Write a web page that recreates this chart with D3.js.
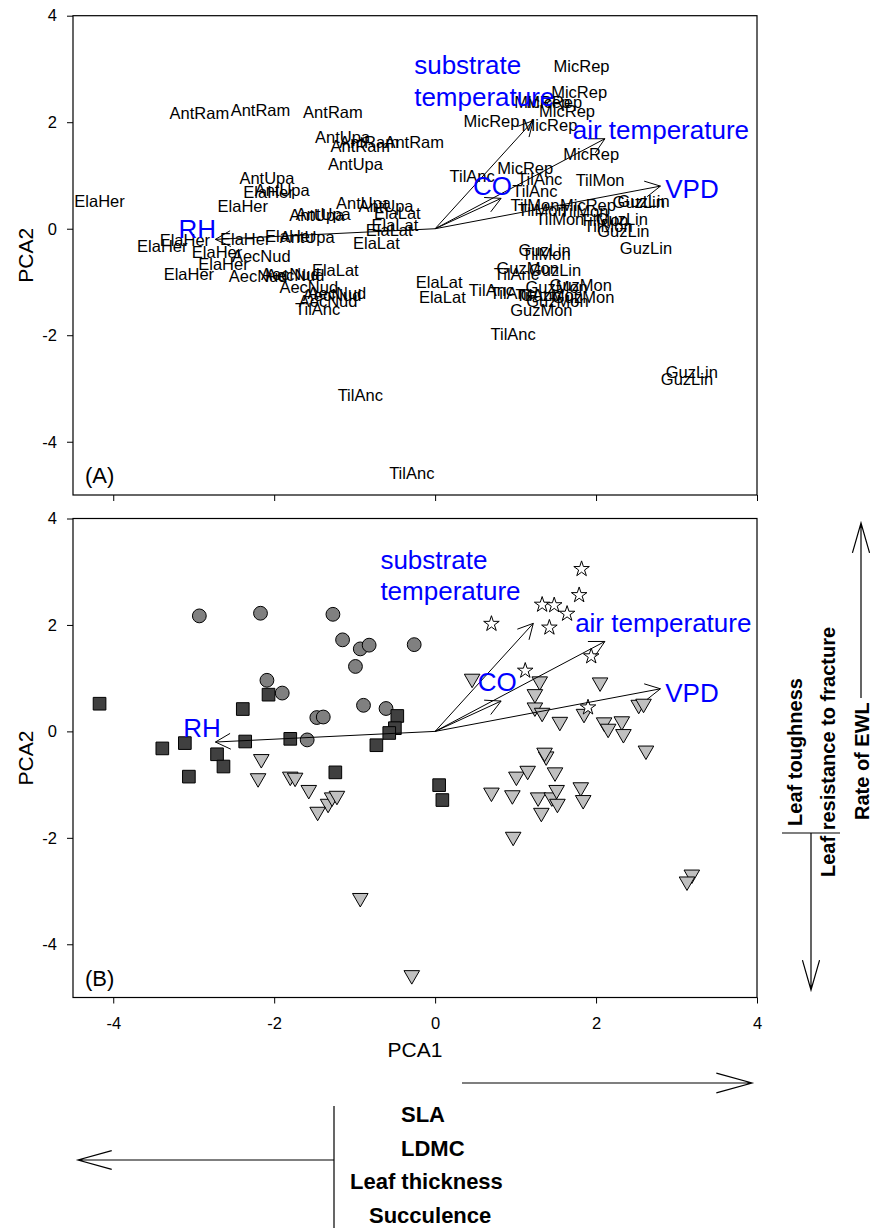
<!DOCTYPE html>
<html>
<head>
<meta charset="utf-8">
<script src="https://cdn.jsdelivr.net/npm/d3@7"></script>
<style>
  body { margin: 0; background: #fff; }
  text { font-family: "Liberation Sans", Arial, sans-serif; }
</style>
</head>
<body>
<div id="chart"></div>
<script>

// species scores on PCA1 / PCA2
var antRam = [[-2.93,2.17],[-2.17,2.22],[-1.27,2.20],[-0.93,1.55],[-0.82,1.62],[-0.26,1.63]];
var antUpa = [[-1.15,1.72],[-0.99,1.22],[-2.09,0.96],[-1.90,0.72],[-1.47,0.26],[-1.39,0.27],[-0.89,0.49],[-0.61,0.43],[-1.59,-0.16]];
var elaHer = [[-4.17,0.52],[-2.39,0.42],[-2.07,0.69],[-3.39,-0.32],[-3.11,-0.22],[-2.36,-0.19],[-1.80,-0.14],[-2.71,-0.43],[-2.63,-0.66],[-3.06,-0.85]];
var elaLat = [[-0.47,0.29],[-0.50,0.06],[-0.57,-0.03],[-0.73,-0.26],[-1.24,-0.77],[0.05,-1.01],[0.09,-1.29]];
var aecNud = [[-2.16,-0.52],[-2.20,-0.88],[-1.80,-0.85],[-1.74,-0.87],[-1.57,-1.10],[-1.33,-1.36],[-1.28,-1.24],[-1.22,-1.21]];
var tilAnc = [[-1.46,-1.51],[-0.93,-3.13],[-0.29,-4.58],[0.46,0.99],[1.30,0.94],[1.24,0.70],[1.01,-0.85],[0.70,-1.15],[0.96,-1.20],[1.28,-1.24],[0.97,-1.98]];
var tilMon = [[2.05,0.92],[1.24,0.45],[1.33,0.35],[1.55,0.18],[1.85,0.33],[2.10,0.17],[2.15,0.05],[1.38,-0.47]];
var guzLin = [[2.53,0.50],[2.59,0.52],[2.32,0.19],[2.34,-0.05],[2.62,-0.36],[1.36,-0.40],[1.49,-0.77],[3.19,-2.69],[3.13,-2.82]];
var guzMon = [[1.15,-0.74],[1.45,-1.24],[1.51,-1.10],[1.52,-1.36],[1.81,-1.05],[1.84,-1.29],[1.32,-1.53]];
var micRep = [[1.82,3.05],[1.79,2.56],[1.33,2.38],[1.48,2.37],[1.64,2.21],[1.42,1.95],[0.70,2.02],[1.94,1.41],[1.12,1.14],[1.90,0.45]];

var groups = [
  {name: "AntRam", pts: antRam, shape: "circle"},
  {name: "AntUpa", pts: antUpa, shape: "circle"},
  {name: "ElaHer", pts: elaHer, shape: "square"},
  {name: "ElaLat", pts: elaLat, shape: "square"},
  {name: "AecNud", pts: aecNud, shape: "triangle"},
  {name: "TilAnc", pts: tilAnc, shape: "triangle"},
  {name: "TilMon", pts: tilMon, shape: "triangle"},
  {name: "GuzLin", pts: guzLin, shape: "triangle"},
  {name: "GuzMon", pts: guzMon, shape: "triangle"},
  {name: "MicRep", pts: micRep, shape: "star"}
];

// environmental vectors
var envNames = ["substrate temperature", "air temperature", "VPD", "CO", "RH"];
var envX = [1.22, 2.11, 2.80, 0.82, -2.73];
var envY = [2.03, 1.69, 0.80, 0.57, -0.20];

var xTicks = [-4, -2, 0, 2, 4];
var yTicks = [-4, -2, 0, 2, 4];

// where the vector names sit (data units, left/baseline), one set per panel
var envLabelsA = [["substrate",-0.26,2.90],["temperature",-0.26,2.30],["air temperature",1.71,1.68],["VPD",2.86,0.57],["CO",0.47,0.63],["RH",-3.19,-0.18]];
var envLabelsB = [["substrate",-0.68,3.06],["temperature",-0.68,2.47],["air temperature",1.74,1.86],["VPD",2.86,0.56],["CO",0.53,0.75],["RH",-3.13,-0.11]];

var W = 874, H = 1228;
var svg = d3.select("#chart").append("svg")
  .attr("width", W)
  .attr("height", H);

var x = d3.scaleLinear().domain([-4.5, 4]).range([73, 757]);
var yA = d3.scaleLinear().domain([-5, 4]).range([495, 15.7]);
var yB = d3.scaleLinear().domain([-5, 4]).range([997.5, 518.5]);

var fills = {circle: "#808080", square: "#404040", triangle: "#c0c0c0", star: "#ffffff"};
var sym = {
  circle: d3.symbol().type(d3.symbolCircle).size(150),
  square: d3.symbol().type(d3.symbolSquare).size(160),
  triangle: d3.symbol().type(d3.symbolTriangle).size(105),
  star: d3.symbol().type(d3.symbolStar).size(75)
};

function arrowPath(x1, y1, x2, y2, len, ang) {
  var a = Math.atan2(y2 - y1, x2 - x1);
  var p1 = [x2 - len * Math.cos(a - ang), y2 - len * Math.sin(a - ang)];
  var p2 = [x2 - len * Math.cos(a + ang), y2 - len * Math.sin(a + ang)];
  return "M" + x1 + "," + y1 + "L" + x2 + "," + y2 +
    "M" + p1[0] + "," + p1[1] + "L" + x2 + "," + y2 + "L" + p2[0] + "," + p2[1];
}

function drawPanel(y, letter, showXLabels, labelsMode, envLabels) {
  var g = svg.append("g");

  // axes
  var ya = g.append("g")
    .attr("transform", "translate(" + x.range()[0] + ",0)")
    .call(d3.axisLeft(y).tickValues(yTicks).tickSize(6).tickPadding(10).tickFormat(function(d){ return String(d); }));
  var xa = g.append("g")
    .attr("transform", "translate(0," + y.range()[0] + ")")
    .call(d3.axisBottom(x).tickValues(xTicks).tickSize(6).tickPadding(14)
      .tickFormat(function(d){ return showXLabels ? String(d) : ""; }));
  [ya, xa].forEach(function(a) {
    a.select(".domain").remove();
    a.selectAll("line").attr("stroke", "#000");
    a.selectAll("text").attr("font-size", 16.5).attr("fill", "#000")
      .attr("font-family", "Liberation Sans, Arial, sans-serif");
  });

  // frame
  g.append("rect")
    .attr("x", x.range()[0]).attr("y", y.range()[1])
    .attr("width", x.range()[1] - x.range()[0])
    .attr("height", y.range()[0] - y.range()[1])
    .attr("fill", "none").attr("stroke", "#000").attr("stroke-width", 1.2);

  g.append("text")
    .attr("transform", "translate(33," + ((y.range()[0] + y.range()[1]) / 2) + ") rotate(-90)")
    .attr("text-anchor", "middle")
    .attr("font-size", 21)
    .text("PCA2");

  g.append("text")
    .attr("x", 85).attr("y", y.range()[0] - 12)
    .attr("font-size", 22)
    .text("(" + letter + ")");

  // species
  groups.forEach(function(grp) {
    if (labelsMode) {
      g.selectAll(null).data(grp.pts).enter().append("text")
        .attr("x", function(d){ return x(d[0]); })
        .attr("y", function(d){ return y(d[1]); })
        .attr("dy", "0.36em")
        .attr("text-anchor", "middle")
        .attr("font-size", 16.5)
        .text(grp.name);
    } else {
      g.selectAll(null).data(grp.pts).enter().append("path")
        .attr("d", sym[grp.shape])
        .attr("transform", function(d){
          var t = "translate(" + x(d[0]) + "," + y(d[1]) + ")";
          return grp.shape === "triangle" ? t + " rotate(180)" : t;
        })
        .attr("fill", fills[grp.shape])
        .attr("stroke", "#000")
        .attr("stroke-width", 1);
    }
  });

  // vectors
  envX.forEach(function(vx, i) {
    g.append("path")
      .attr("d", arrowPath(x(0), y(0), x(vx), y(envY[i]), 17, Math.PI / 6.5))
      .attr("fill", "none").attr("stroke", "#000").attr("stroke-width", 1);
  });
  envLabels.forEach(function(l) {
    g.append("text")
      .attr("x", x(l[1])).attr("y", y(l[2]))
      .attr("font-size", 26)
      .attr("fill", "#0000ff")
      .text(l[0]);
  });
}

drawPanel(yA, "A", false, true, envLabelsA);
drawPanel(yB, "B", true, false, envLabelsB);

svg.append("text")
  .attr("x", (x.range()[0] + x.range()[1]) / 2).attr("y", 1057)
  .attr("text-anchor", "middle")
  .attr("font-size", 21)
  .text("PCA1");

// trait annotations
var ann = svg.append("g").attr("fill", "none").attr("stroke", "#000").attr("stroke-width", 1.2);
ann.append("path").attr("d", arrowPath(462, 1083, 752, 1083, 37, 0.27));
ann.append("path").attr("d", arrowPath(334, 1160, 78, 1160, 35, 0.27));
ann.append("path").attr("d", "M334,1106L334,1228");
ann.append("path").attr("d", arrowPath(861, 698, 861, 523, 31, 0.28));
ann.append("path").attr("d", "M782,833L840,833");
ann.append("path").attr("d", arrowPath(811, 833, 811, 990, 31, 0.28));

var bottomTxt = [["SLA", 401, 1122], ["LDMC", 401, 1156], ["Leaf thickness", 350, 1189], ["Succulence", 369, 1223]];
bottomTxt.forEach(function(t) {
  svg.append("text").attr("x", t[1]).attr("y", t[2])
    .attr("font-size", 22).attr("font-weight", "bold").text(t[0]);
});

svg.append("text")
  .attr("transform", "translate(802,752) rotate(-90)")
  .attr("text-anchor", "middle").attr("font-size", 20).attr("font-weight", "bold")
  .text("Leaf toughness");
svg.append("text")
  .attr("transform", "translate(835,752) rotate(-90)")
  .attr("text-anchor", "middle").attr("font-size", 20).attr("font-weight", "bold")
  .text("Leaf resistance to fracture");
svg.append("text")
  .attr("transform", "translate(869,820) rotate(-90)")
  .attr("text-anchor", "start").attr("font-size", 20).attr("font-weight", "bold")
  .text("Rate of EWL");

</script>
</body>
</html>
